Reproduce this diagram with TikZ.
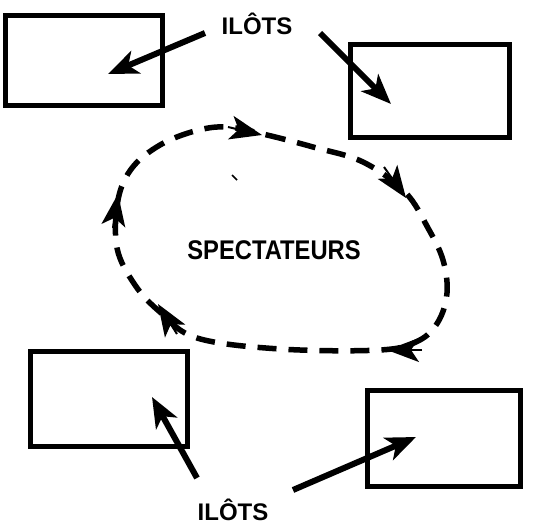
\documentclass[tikz,border=0pt]{standalone}
\usepackage{fontspec}
\setmainfont{Liberation Sans}
\usetikzlibrary{arrows.meta}
\begin{document}
\begin{tikzpicture}[x=1pt,y=-1pt,
  box/.style={draw,line width=5.5pt,inner sep=0pt},
  lbl/.style={font=\bfseries\fontsize{24}{24}\selectfont,inner sep=0pt},
  arr/.style={line width=6pt,-{Stealth[length=30pt,width=24pt,inset=8pt]}},
  loop/.style={line width=5.5pt,dash pattern=on 19pt off 12pt},
  lhead/.style={line width=2pt,-{Stealth[length=32pt,width=24pt,inset=8pt]}}]
\useasboundingbox (0,0) rectangle (533,525);
% rectangles
\node[box,minimum width=157pt,minimum height=90pt] (r1) at (84,60.5) {};
\node[box,minimum width=159pt,minimum height=93pt] (r2) at (430,91) {};
\node[box,minimum width=157pt,minimum height=95pt] (r3) at (109,399) {};
\node[box,minimum width=153pt,minimum height=96pt] (r4) at (444,438.5) {};
% labels
\node[lbl] (t1) at (257,24) {ILÔTS};
\node[lbl] (t2) at (233,510) {ILÔTS};
\node[lbl,font=\bfseries\fontsize{27}{27}\selectfont] (sp) at (274,250) {\scalebox{0.88}[1]{SPECTATEURS}};
% arrow end coordinates
\coordinate (a1s) at (205,33);  \coordinate (a1e) at (108,74);
\coordinate (a2s) at (320,33);  \coordinate (a2e) at (391,104);
\coordinate (a3s) at (197,478); \coordinate (a3e) at (152,397);
\coordinate (a4s) at (293,490); \coordinate (a4e) at (416,437);
\draw[arr] (a1s) -- (a1e);
\draw[arr] (a2s) -- (a2e);
\draw[arr] (a3s) -- (a3e);
\draw[arr] (a4s) -- (a4e);
% dashed loop
\draw[loop] plot[smooth cycle,tension=0.6] coordinates {
  (227,127) (267,135) (313,147) (363,162) (405,192) (428,228) (443,260)
  (447,293) (438,322) (418,341) (380,350) (280,349) (197,338) (160,312)
  (135,285) (117,248) (118,200) (132,168) (160,145) (195,131)};
% arrowheads on loop
\coordinate (h1b) at (228,127); \coordinate (h1e) at (262,135);
\coordinate (h2b) at (384,167); \coordinate (h2e) at (406,198);
\coordinate (h3b) at (422,350); \coordinate (h3e) at (387,350);
\coordinate (h4b) at (177,334); \coordinate (h4e) at (158,304);
\coordinate (h5b) at (113,228); \coordinate (h5e) at (118,194);
\draw[lhead] (h1b) -- (h1e);
\draw[lhead] (h2b) -- (h2e);
\draw[lhead] (h3b) -- (h3e);
\draw[lhead] (h4b) -- (h4e);
\draw[lhead] (h5b) -- (h5e);
% small stray mark
\draw[line width=1.5pt] (232,175) -- (237,180);
\end{tikzpicture}
\end{document}
